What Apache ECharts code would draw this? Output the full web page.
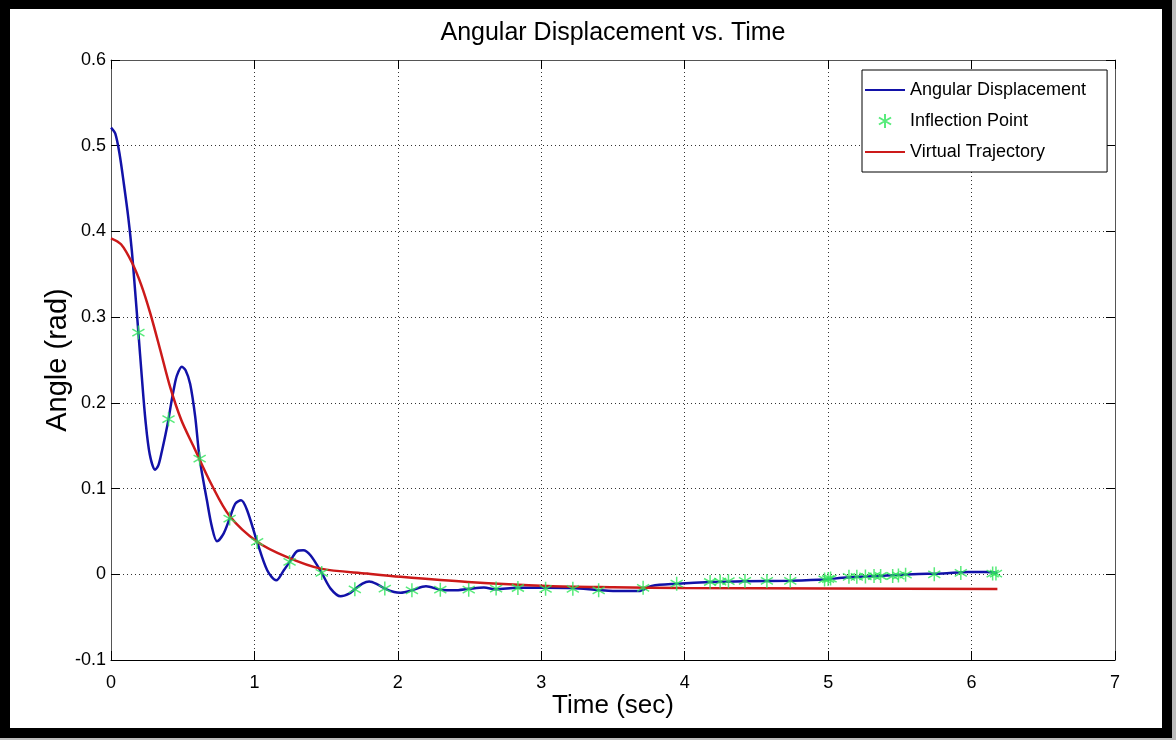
<!DOCTYPE html>
<html>
<head>
<meta charset="utf-8">
<title>Angular Displacement vs. Time</title>
<script src="https://cdn.jsdelivr.net/npm/echarts@6/dist/echarts.min.js"></script>
<style>
  html, body { margin: 0; padding: 0; background: #bdbdbd; }
  #frame {
    position: absolute; left: 0; top: 0; width: 1172px; height: 738px;
    box-sizing: border-box; background: #fff;
    border: 10px solid #000; border-top-width: 9px;
  }
  #chart { position: absolute; left: 0; top: 0; width: 1176px; height: 740px; }
</style>
</head>
<body>
<div id="frame"></div>
<div id="chart" role="img" aria-label="Angular displacement versus time"></div>
<script>
// Angular displacement (blue) as [time, angle]
const displacement = [
  [0, 0.521], [0.03, 0.514], [0.06, 0.49], [0.09, 0.455], [0.12, 0.417],
  [0.145, 0.378], [0.168, 0.331], [0.191, 0.282], [0.214, 0.232], [0.24, 0.18],
  [0.27, 0.14], [0.308, 0.122], [0.33, 0.127], [0.354, 0.143], [0.38, 0.163],
  [0.401, 0.181], [0.42, 0.2], [0.44, 0.218], [0.46, 0.232], [0.494, 0.242],
  [0.52, 0.238], [0.552, 0.222], [0.587, 0.184], [0.618, 0.135], [0.669, 0.086],
  [0.704, 0.055], [0.739, 0.0385], [0.785, 0.0475], [0.827, 0.065], [0.867, 0.0825],
  [0.907, 0.0863], [0.949, 0.0747], [1.019, 0.0377], [1.089, 0.0047], [1.152, -0.007],
  [1.205, 0.0047], [1.245, 0.0144], [1.298, 0.027], [1.34, 0.028], [1.392, 0.022],
  [1.469, 0.0016], [1.531, -0.0167], [1.601, -0.0257], [1.66, -0.0226], [1.7, -0.0175],
  [1.753, -0.011], [1.8, -0.0085], [1.857, -0.0117], [1.909, -0.0167], [1.974, -0.0206],
  [2.02, -0.0214], [2.098, -0.0187], [2.196, -0.014], [2.296, -0.018], [2.394, -0.0187],
  [2.494, -0.017], [2.6, -0.0155], [2.685, -0.0175], [2.83, -0.0156], [3.03, -0.0156],
  [3.22, -0.016], [3.4, -0.0185], [3.5, -0.0195], [3.68, -0.0195], [3.77, -0.0135],
  [3.95, -0.011], [4.18, -0.009], [4.42, -0.008], [4.74, -0.0075], [4.98, -0.0062],
  [5.1, -0.004], [5.35, -0.002], [5.59, 0], [5.8, 0.001], [5.98, 0.0027],
  [6.1, 0.0027], [6.18, 0.0016]
];

// Virtual trajectory (red)
const trajectory = [
  [0, 0.392], [0.07, 0.385], [0.145, 0.364], [0.21, 0.338], [0.273, 0.305],
  [0.343, 0.262], [0.413, 0.218], [0.49, 0.18], [0.576, 0.149], [0.7, 0.105],
  [0.827, 0.068], [1.019, 0.038], [1.228, 0.02], [1.462, 0.0066], [1.788, 0.0008],
  [2.02, -0.003], [2.487, -0.009], [3.047, -0.0136], [3.5, -0.015], [4.0, -0.016],
  [5.0, -0.0167], [6.18, -0.0172]
];

// Inflection points (green asterisks)
const inflections = [
  [0.191, 0.282], [0.401, 0.181], [0.618, 0.135], [0.827, 0.065], [1.019, 0.0377],
  [1.245, 0.0144], [1.469, 0.0016], [1.7, -0.0175], [1.909, -0.0167], [2.098, -0.0187],
  [2.296, -0.018], [2.494, -0.018], [2.685, -0.0167], [2.837, -0.016], [3.03, -0.017],
  [3.22, -0.017], [3.4, -0.0187], [3.71, -0.0158], [3.944, -0.011], [4.177, -0.009],
  [4.247, -0.0085], [4.305, -0.008], [4.42, -0.0078], [4.573, -0.0078], [4.736, -0.0078],
  [4.975, -0.006], [5.0, -0.0055], [5.017, -0.005], [5.145, -0.003], [5.2, -0.003],
  [5.26, -0.0025], [5.32, -0.002], [5.366, -0.002], [5.45, -0.002], [5.49, -0.0015],
  [5.54, -0.0005], [5.74, 0], [5.925, 0.0016], [6.147, 0.0008], [6.17, 0.0008]
];

const seriesNames = ["Angular Displacement", "Inflection Point", "Virtual Trajectory"];
const xRange = [0, 7];
const yRange = [-0.1, 0.6];

const font = "Arial, 'Liberation Sans', Helvetica, sans-serif";
const asterisk = "path://M0,-10L0,10M-8.66,-5L8.66,5M-8.66,5L8.66,-5";
const gridDots = { color: "#333", width: 1, type: [1, 3] };
const blue = "#1212a8";
const red = "#cc1a1a";
const green = "#2ee65a";

const chart = echarts.init(document.getElementById("chart"));

chart.setOption({
  animation: false,
  backgroundColor: "transparent",
  textStyle: { fontFamily: font, color: "#000" },
  title: {
    text: "Angular Displacement vs. Time",
    left: 613,
    top: 21,
    padding: 0,
    textAlign: "center",
    textStyle: { fontFamily: font, fontSize: 25, fontWeight: "normal", color: "#000" }
  },
  grid: {
    left: 111,
    right: 61,
    top: 60,
    bottom: 80,
    containLabel: false,
    outerBoundsMode: "none"
  },
  legend: {
    // line entries show only their stroke, like the original
    data: [
      { name: seriesNames[0], itemStyle: { opacity: 0 } },
      { name: seriesNames[1] },
      { name: seriesNames[2], itemStyle: { opacity: 0 } }
    ],
    orient: "vertical",
    left: 862,
    top: 70,
    padding: [10, 21, 10, 2],
    itemGap: 11,
    itemWidth: 40,
    itemHeight: 14,
    backgroundColor: "#fff",
    borderColor: "#000",
    borderWidth: 1,
    borderRadius: 0,
    textStyle: { fontFamily: font, fontSize: 18, color: "#000", lineHeight: 20 }
  },
  xAxis: [
    {
      type: "value",
      min: xRange[0],
      max: xRange[1],
      interval: 1,
      name: "Time (sec)",
      nameLocation: "middle",
      nameGap: 33,
      nameMoveOverlap: false,
      nameTextStyle: { fontFamily: font, fontSize: 26, color: "#000" },
      axisLine: { onZero: false, lineStyle: { color: "#000", width: 1 } },
      axisTick: { inside: true, length: 9, lineStyle: { color: "#000" } },
      axisLabel: { fontFamily: font, fontSize: 18, color: "#000", margin: 14 },
      splitLine: { show: true, lineStyle: gridDots }
    },
    {
      type: "value",
      position: "top",
      min: xRange[0],
      max: xRange[1],
      interval: 1,
      axisLine: { onZero: false, lineStyle: { color: "#555", width: 1 } },
      axisTick: { inside: true, length: 9, lineStyle: { color: "#000" } },
      axisLabel: { show: false },
      splitLine: { show: false }
    }
  ],
  yAxis: [
    {
      type: "value",
      min: yRange[0],
      max: yRange[1],
      interval: 0.1,
      name: "Angle (rad)",
      nameLocation: "middle",
      nameGap: 39,
      nameMoveOverlap: false,
      nameTextStyle: { fontFamily: font, fontSize: 29, color: "#000" },
      axisLine: { show: true, onZero: false, lineStyle: { color: "#555", width: 1 } },
      axisTick: { show: true, inside: true, length: 9, lineStyle: { color: "#000" } },
      axisLabel: { fontFamily: font, fontSize: 18, color: "#000", margin: 5 },
      splitLine: { show: true, lineStyle: gridDots }
    },
    {
      type: "value",
      position: "right",
      min: yRange[0],
      max: yRange[1],
      interval: 0.1,
      axisLine: { show: true, onZero: false, lineStyle: { color: "#555", width: 1 } },
      axisTick: { show: true, inside: true, length: 9, lineStyle: { color: "#000" } },
      axisLabel: { show: false },
      splitLine: { show: false }
    }
  ],
  series: [
    {
      name: seriesNames[0],
      type: "line",
      data: displacement,
      smooth: 0.3,
      symbol: "none",
      lineStyle: { color: blue, width: 2.5 },
      itemStyle: { color: blue },
      z: 2
    },
    {
      name: seriesNames[2],
      type: "line",
      data: trajectory,
      smooth: 0.3,
      symbol: "none",
      lineStyle: { color: red, width: 2.5 },
      itemStyle: { color: red },
      z: 3
    },
    {
      name: seriesNames[1],
      type: "scatter",
      data: inflections,
      symbol: asterisk,
      symbolSize: 14,
      symbolKeepAspect: true,
      itemStyle: { color: "none", borderColor: green, borderWidth: 1.5 },
      z: 4
    }
  ]
});
</script>
</body>
</html>
